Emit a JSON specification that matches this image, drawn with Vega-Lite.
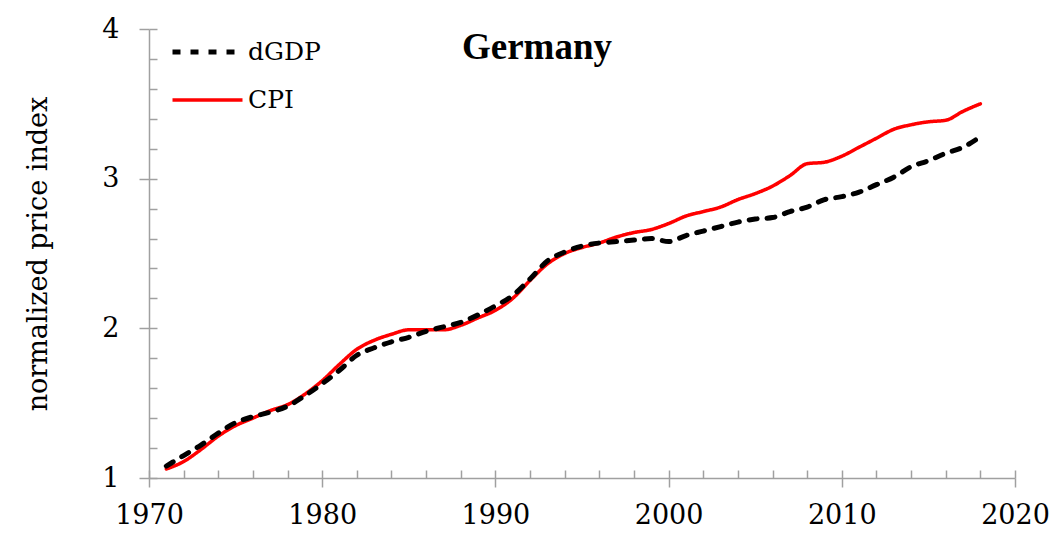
{
  "$schema": "https://vega.github.io/schema/vega-lite/v6.json",
  "width": 866,
  "height": 449,
  "autosize": {"type": "none"},
  "padding": {"left": 149, "top": 29, "right": 44, "bottom": 58},
  "background": "white",
  "config": {"view": {"stroke": null}, "font": "DejaVu Serif"},
  "data": {"values": [
    {"year":1971,"series":"CPI","value":1.06},{"year":1972,"series":"CPI","value":1.11},{"year":1973,"series":"CPI","value":1.19},{"year":1974,"series":"CPI","value":1.28},{"year":1975,"series":"CPI","value":1.35},{"year":1976,"series":"CPI","value":1.40},{"year":1977,"series":"CPI","value":1.45},{"year":1978,"series":"CPI","value":1.49},{"year":1979,"series":"CPI","value":1.56},{"year":1980,"series":"CPI","value":1.65},
    {"year":1981,"series":"CPI","value":1.76},{"year":1982,"series":"CPI","value":1.86},{"year":1983,"series":"CPI","value":1.92},{"year":1984,"series":"CPI","value":1.96},{"year":1985,"series":"CPI","value":1.99},{"year":1986,"series":"CPI","value":1.99},{"year":1987,"series":"CPI","value":1.99},{"year":1988,"series":"CPI","value":2.02},{"year":1989,"series":"CPI","value":2.07},{"year":1990,"series":"CPI","value":2.12},
    {"year":1991,"series":"CPI","value":2.20},{"year":1992,"series":"CPI","value":2.32},{"year":1993,"series":"CPI","value":2.43},{"year":1994,"series":"CPI","value":2.50},{"year":1995,"series":"CPI","value":2.54},{"year":1996,"series":"CPI","value":2.57},{"year":1997,"series":"CPI","value":2.61},{"year":1998,"series":"CPI","value":2.64},{"year":1999,"series":"CPI","value":2.66},{"year":2000,"series":"CPI","value":2.70},
    {"year":2001,"series":"CPI","value":2.75},{"year":2002,"series":"CPI","value":2.78},{"year":2003,"series":"CPI","value":2.81},{"year":2004,"series":"CPI","value":2.86},{"year":2005,"series":"CPI","value":2.90},{"year":2006,"series":"CPI","value":2.95},{"year":2007,"series":"CPI","value":3.02},{"year":2008,"series":"CPI","value":3.10},{"year":2009,"series":"CPI","value":3.11},{"year":2010,"series":"CPI","value":3.15},
    {"year":2011,"series":"CPI","value":3.21},{"year":2012,"series":"CPI","value":3.27},{"year":2013,"series":"CPI","value":3.33},{"year":2014,"series":"CPI","value":3.36},{"year":2015,"series":"CPI","value":3.38},{"year":2016,"series":"CPI","value":3.39},{"year":2017,"series":"CPI","value":3.45},{"year":2018,"series":"CPI","value":3.50},
    {"year":1971,"series":"dGDP","value":1.08},{"year":1972,"series":"dGDP","value":1.15},{"year":1973,"series":"dGDP","value":1.22},{"year":1974,"series":"dGDP","value":1.30},{"year":1975,"series":"dGDP","value":1.37},{"year":1976,"series":"dGDP","value":1.41},{"year":1977,"series":"dGDP","value":1.44},{"year":1978,"series":"dGDP","value":1.48},{"year":1979,"series":"dGDP","value":1.55},{"year":1980,"series":"dGDP","value":1.63},
    {"year":1981,"series":"dGDP","value":1.72},{"year":1982,"series":"dGDP","value":1.82},{"year":1983,"series":"dGDP","value":1.87},{"year":1984,"series":"dGDP","value":1.91},{"year":1985,"series":"dGDP","value":1.94},{"year":1986,"series":"dGDP","value":1.98},{"year":1987,"series":"dGDP","value":2.01},{"year":1988,"series":"dGDP","value":2.04},{"year":1989,"series":"dGDP","value":2.09},{"year":1990,"series":"dGDP","value":2.15},
    {"year":1991,"series":"dGDP","value":2.22},{"year":1992,"series":"dGDP","value":2.33},{"year":1993,"series":"dGDP","value":2.45},{"year":1994,"series":"dGDP","value":2.51},{"year":1995,"series":"dGDP","value":2.55},{"year":1996,"series":"dGDP","value":2.57},{"year":1997,"series":"dGDP","value":2.58},{"year":1998,"series":"dGDP","value":2.59},{"year":1999,"series":"dGDP","value":2.60},{"year":2000,"series":"dGDP","value":2.58},
    {"year":2001,"series":"dGDP","value":2.62},{"year":2002,"series":"dGDP","value":2.65},{"year":2003,"series":"dGDP","value":2.68},{"year":2004,"series":"dGDP","value":2.71},{"year":2005,"series":"dGDP","value":2.73},{"year":2006,"series":"dGDP","value":2.74},{"year":2007,"series":"dGDP","value":2.78},{"year":2008,"series":"dGDP","value":2.81},{"year":2009,"series":"dGDP","value":2.86},{"year":2010,"series":"dGDP","value":2.88},
    {"year":2011,"series":"dGDP","value":2.91},{"year":2012,"series":"dGDP","value":2.96},{"year":2013,"series":"dGDP","value":3.01},{"year":2014,"series":"dGDP","value":3.08},{"year":2015,"series":"dGDP","value":3.12},{"year":2016,"series":"dGDP","value":3.17},{"year":2017,"series":"dGDP","value":3.21},{"year":2018,"series":"dGDP","value":3.28}
  ]},
  "layer": [
    {
      "mark": {"type": "line", "interpolate": "monotone", "strokeCap": "round"},
      "encoding": {
        "x": {"field": "year", "type": "quantitative",
          "scale": {"domain": [1970, 2020], "nice": false, "zero": false},
          "axis": {"orient": "bottom", "values": [1970,1980,1990,2000,2010,2020], "format": "d", "labelFlush": false, "labelOverlap": false, "tickSize": 9, "tickColor": "#a0a0a0", "tickWidth": 1.5, "domainColor": "#a0a0a0", "domainWidth": 1.5, "grid": false, "title": null, "labelFont": "DejaVu Serif", "labelFontSize": 27, "labelColor": "black", "labelPadding": 15}},
        "y": {"field": "value", "type": "quantitative",
          "scale": {"domain": [1, 4], "nice": false, "zero": false},
          "axis": {"orient": "left", "values": [1,2,3,4], "labelFlush": false, "labelOverlap": false, "tickSize": 10, "tickColor": "#a0a0a0", "tickWidth": 1.5, "domainColor": "#a0a0a0", "domainWidth": 1.5, "grid": false, "labelFont": "DejaVu Serif", "labelFontSize": 27, "labelColor": "black", "labelPadding": 20, "title": "normalized price index", "titleFont": "DejaVu Serif", "titleFontSize": 27, "titleFontWeight": "normal", "titleColor": "black", "titlePadding": 49}},
        "color": {"field": "series", "type": "nominal",
          "scale": {"domain": ["dGDP", "CPI"], "range": ["#000000", "#ff0000"]},
          "legend": {"orient": "none", "legendX": 21, "legendY": 3, "title": null, "symbolType": "stroke", "symbolSize": 4900, "symbolStrokeWidth": 4.5, "clipHeight": 40, "rowPadding": 8, "labelOffset": 3, "labelFont": "DejaVu Serif", "labelFontSize": 25, "labelColor": "black", "padding": 0}},
        "strokeDash": {"field": "series", "type": "nominal",
          "scale": {"domain": ["dGDP", "CPI"], "range": [[8, 10], [1, 0]]},
          "legend": {"orient": "none", "legendX": 21, "legendY": 3, "title": null, "symbolType": "stroke", "symbolSize": 4900, "symbolStrokeWidth": 4.5, "clipHeight": 40, "rowPadding": 8, "labelOffset": 3, "labelFont": "DejaVu Serif", "labelFontSize": 25, "labelColor": "black", "padding": 0}},
        "strokeWidth": {"field": "series", "type": "ordinal",
          "scale": {"domain": ["dGDP", "CPI"], "range": [5, 3.5]}, "legend": null}
      }
    },
    {
      "data": {"values": [{"label": "Germany"}]},
      "mark": {"type": "text", "font": "Liberation Serif", "fontSize": 37, "fontWeight": "bold", "align": "center", "baseline": "alphabetic", "color": "black"},
      "encoding": {
        "x": {"datum": 1992.4, "type": "quantitative",
          "axis": {"orient": "bottom", "values": [1970,1972,1974,1976,1978,1980,1982,1984,1986,1988,1990,1992,1994,1996,1998,2000,2002,2004,2006,2008,2010,2012,2014,2016,2018,2020], "tickSize": -8, "tickColor": "#a0a0a0", "tickWidth": 1.5, "domain": false, "labels": false, "grid": false, "title": null}},
        "y": {"datum": 3.8, "type": "quantitative",
          "axis": {"orient": "left", "values": [1,1.2,1.4,1.6,1.8,2,2.2,2.4,2.6,2.8,3,3.2,3.4,3.6,3.8,4], "tickSize": -8, "tickColor": "#a0a0a0", "tickWidth": 1.5, "domain": false, "labels": false, "grid": false, "title": null}},
        "text": {"field": "label", "type": "nominal"}
      }
    }
  ],
  "resolve": {"axis": {"x": "independent", "y": "independent"}}
}
